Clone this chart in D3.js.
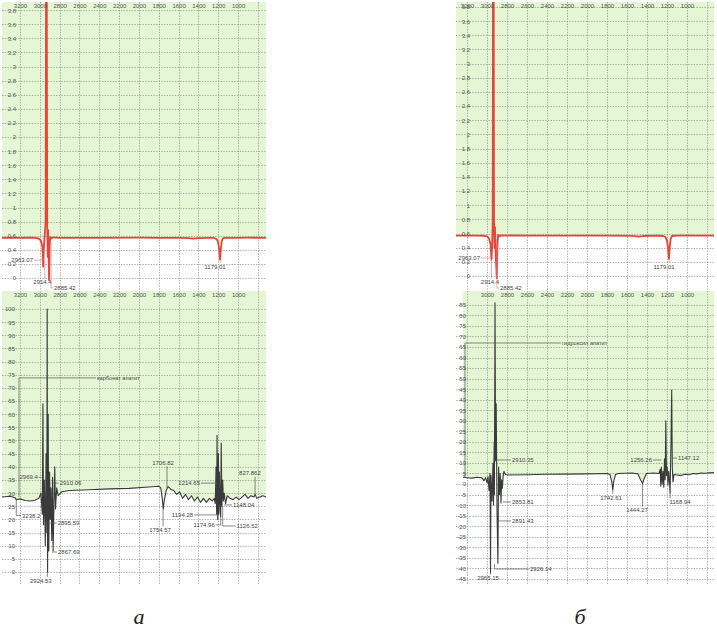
<!DOCTYPE html>
<html>
<head>
<meta charset="utf-8">
<script src="https://cdn.jsdelivr.net/npm/d3@7"></script>
<style>
body { margin: 0; background: #fff; }
</style>
</head>
<body>
<svg id="fig" width="717" height="635"></svg>
<script>

// wavenumber ticks (cm-1)
var wnTicks = [3200, 3000, 2800, 2600, 2400, 2200, 2000, 1800, 1600, 1400, 1200, 1000];
var wnTicksB = [3000, 2800, 2600, 2400, 2200, 2000, 1800, 1600, 1400, 1200, 1000];
var wnGrid = [3200, 3000, 2800, 2600, 2400, 2200, 2000, 1800, 1600, 1400, 1200, 1000, 800];

var topTicks = [0, 0.2, 0.4, 0.6, 0.8, 1, 1.2, 1.4, 1.6, 1.8, 2, 2.2, 2.4, 2.6, 2.8, 3, 3.2, 3.4, 3.6, 3.8];
var botTicksA = [0, 5, 10, 15, 20, 25, 30, 35, 40, 45, 50, 55, 60, 65, 70, 75, 80, 85, 90, 95, 100];
var botTicksB = [-45, -40, -35, -30, -25, -20, -15, -10, -5, 0, 5, 10, 15, 20, 25, 30, 35, 40, 45, 50, 55, 60, 65, 70, 75, 80, 85];

// spectra: [wavenumber, value]
var topSpecA = [[3382,0.57],[3300,0.572],[3200,0.57],[3100,0.571],[3040,0.568],[3010,0.56],[2990,0.53],[2975,0.45],
  [2966,0.16],[2960,0.42],[2950,0.62],[2942,0.8],[2937,4.6],[2931,4.6],[2926,0.75],[2920,0.3],[2916,0.68],[2912,0.35],
  [2907,-0.03],[2902,0.45],[2895,0.58],[2885,0.56],[2870,0.575],[2800,0.57],[2400,0.57],[2000,0.572],[1800,0.57],
  [1600,0.568],[1500,0.565],[1450,0.56],[1400,0.565],[1300,0.57],[1240,0.568],[1215,0.55],[1200,0.5],[1190,0.4],
  [1182,0.26],[1174,0.4],[1165,0.52],[1150,0.565],[1120,0.57],[1000,0.57],[900,0.572],[718,0.57]];

var topSpecB = [[3310,0.57],[3200,0.571],[3100,0.57],[3030,0.568],[3000,0.56],[2980,0.53],[2965,0.45],[2955,0.23],
  [2948,0.45],[2943,0.75],[2940,4.6],[2934,4.6],[2930,0.8],[2925,0.4],[2920,0.69],[2913,0.3],[2902,-0.03],[2895,0.45],
  [2888,0.58],[2875,0.56],[2860,0.572],[2600,0.57],[2200,0.57],[1800,0.57],[1550,0.566],[1480,0.555],[1430,0.565],
  [1300,0.57],[1240,0.565],[1215,0.55],[1200,0.5],[1190,0.4],[1181,0.24],[1173,0.4],[1164,0.52],[1150,0.565],
  [1100,0.57],[900,0.571],[730,0.57]];

var botSpecA = [[3382,28.5],[3300,28.8],[3250,28.2],[3238,27.5],[3200,27.8],[3150,27.2],[3100,27.0],[3050,27.3],
  [3010,28],[2990,30],[2975,22],[2969,64],[2963,18],[2955,35],[2945,10],[2937,45],[2930,15],[2926,100],[2922,0],
  [2916,60],[2910,8],[2902,38],[2895,20],[2888,32],[2880,12],[2872,36],[2866,8],[2858,25],[2850,40],[2842,24],
  [2830,32],[2815,29],[2780,30.5],[2700,31],[2500,31.3],[2300,31.6],[2100,31.8],[1900,32.3],[1800,32.6],[1780,32],
  [1765,28],[1755,24],[1745,27],[1725,31],[1706,32.5],[1680,31.5],[1650,31],[1620,29.5],[1590,30.5],[1560,28],
  [1530,29.5],[1500,27.5],[1470,29],[1440,27],[1410,28.5],[1380,26.5],[1350,28],[1320,26.5],[1290,28],[1260,27],
  [1240,28],[1230,26],[1222,40],[1216,22],[1212,52],[1205,20],[1198,45],[1194,22],[1188,38],[1180,24],[1175,21],
  [1170,49],[1163,25],[1155,35],[1148,27],[1140,30],[1126,26],[1110,29],[1080,28],[1050,27.5],[1020,28.5],
  [990,27.5],[960,28.5],[930,29.5],[900,28],[870,29],[840,28.5],[828,29.5],[810,28],[780,28.5],[750,29],[718,28.5]];

var botSpecB = [[3240,3.2],[3200,3.0],[3150,2.8],[3100,3.2],[3050,2.9],[3030,1.5],[3015,3.0],[3000,0.5],[2990,3.5],
  [2980,-3],[2970,5],[2965,-42],[2960,4],[2950,-8],[2940,10],[2935,-10],[2928,20],[2926,-5],[2920,86],[2914,11],
  [2908,38],[2900,-12],[2891,-37.6],[2884,8],[2876,-5],[2868,5],[2860,-9],[2853,2],[2846,-2],[2838,4],[2830,6],
  [2815,4.5],[2790,4.3],[2600,4.4],[2400,4.6],[2200,4.7],[2000,4.8],[1800,5],[1770,4.5],[1752,1],[1742,-2.8],
  [1732,1.5],[1715,4.5],[1690,5],[1550,5.2],[1490,4.8],[1465,2],[1444,0.2],[1430,2.5],[1405,5],[1330,5.2],
  [1280,5],[1268,7],[1262,-1],[1256,8],[1248,0],[1240,6],[1232,-1.5],[1225,12],[1218,2],[1212,30],[1205,4],
  [1198,8],[1190,-0.5],[1183,6],[1176,2],[1169,-4.4],[1160,20],[1153,44.6],[1147,8],[1140,1],[1130,4.5],
  [1100,4.3],[1060,4.0],[1020,4.6],[980,4.4],[940,5.0],[900,4.8],[860,5.2],[820,5.1],[780,5.3],[730,5.4]];

// peak notes: [text, wn, value, label wn, label value, anchor]
var notesTopA = [["2963.07",2958,0.255,3069,0.255,"end"],["2914.4",2950,0.25,2973,-0.06,"middle"],
  ["2885.42",2887,0.5,2857,-0.14,"start"],["1179.01",1180,0.26,1232,0.16,"middle"]];
var notesTopB = [["2963.07",2965,0.254,3070,0.254,"end"],["2914.4",2955,0.23,2970,-0.085,"middle"],
  ["2885.42",2900,0.45,2870,-0.17,"start"],["1179.01",1180,0.24,1230,0.13,"middle"]];
var notesBotA = [["карбонат апатит",3210,28.5,2423,73.8,"start"],["2969.4",2985,36,3020,36,"end"],
  ["3238.2",3238,28,3180,21.5,"start"],["2910.06",2880,33.8,2800,33.8,"start"],["2895.59",2897,18.6,2820,18.6,"start"],
  ["2867.69",2877,7.6,2817,7.6,"start"],["2924.53",2924,0,2990,-3.2,"middle"],["1706.82",1717,32,1757,41.5,"middle"],
  ["1754.57",1757,24,1787,16,"middle"],["1214.65",1212,33.8,1384,33.8,"end"],["1194.28",1194,21.7,1454,21.7,"end"],
  ["1174.96",1175,21,1235,17.9,"end"],["1148.04",1140,25.5,1050,25.5,"start"],["1126.52",1155,25,1015,17.5,"start"],
  ["827.862",828,29.5,880,37.6,"middle"]];
var notesBotB = [["гидроксил апатит",3220,3,2250,66.9,"start"],["2910.35",2920,11.4,2750,11.4,"start"],
  ["2853.81",2840,-8.5,2750,-8.5,"start"],["2891.43",2890,-17.5,2750,-17.5,"start"],["2926.14",2926,-38,2570,-40.3,"start"],
  ["2965.15",2965,-42,2990,-44.6,"middle"],["1742.61",1742,-2.8,1760,-6.4,"middle"],["1444.27",1444,0.2,1500,-12.3,"middle"],
  ["1256.26",1256,11.4,1350,11.4,"end"],["1147.12",1147,12.3,1090,12.3,"start"],["1168.94",1169,-4.4,1070,-8.5,"middle"]];

var sans = '"Liberation Sans", Arial, sans-serif';
var svg = d3.select('#fig');

var panels = [
  { spec: topSpecA, notes: notesTopA, xd: [3382, 718], xr: [2, 266], yd: [-0.17, 3.915], yr: [290, 2],
    yt: topTicks, xt: wnTicks, ylx: 16, color: '#e5463c', width: 1.8, lead: '#e8837b' },
  { spec: topSpecB, notes: notesTopB, xd: [3310, 730], xr: [456, 714], yd: [-0.198, 3.87], yr: [290, 2],
    yt: topTicks, xt: wnTicks, ylx: 470, color: '#e5463c', width: 1.8, lead: '#e8837b' },
  { spec: botSpecA, notes: notesBotA, xd: [3382, 718], xr: [2, 266], yd: [-4.94, 106.84], yr: [585, 291],
    yt: botTicksA, xt: wnTicks, ylx: 15, color: '#3a3a3a', width: 1.1, lead: '#555' },
  { spec: botSpecB, notes: notesBotB, xd: [3310, 730], xr: [456, 714], yd: [-47.9, 91.56], yr: [585, 291],
    yt: botTicksB, xt: wnTicksB, ylx: 466, color: '#3a3a3a', width: 1.1, lead: '#555' }
];

panels.forEach(function(p, i) {

  var x = d3.scaleLinear().domain(p.xd).range(p.xr);
  var y = d3.scaleLinear().domain(p.yd).range(p.yr);
  var top = p.yr[1], bottom = p.yr[0];

  svg.append('clipPath').attr('id', 'clip' + i)
    .append('rect')
    .attr('x', p.xr[0]).attr('y', top)
    .attr('width', p.xr[1] - p.xr[0]).attr('height', bottom - top);

  var g = svg.append('g');
  var plot = g.append('g').attr('clip-path', 'url(#clip' + i + ')');

  // green fill above the curve
  plot.append('path')
    .datum(p.spec)
    .attr('fill', '#e4f6d4')
    .attr('d', d3.area().x(d => x(d[0])).y0(top).y1(d => y(d[1])));

  // grid
  plot.selectAll('.hg').data(p.yt).enter().append('line')
    .attr('x1', p.xr[0]).attr('x2', p.xr[1])
    .attr('y1', d => Math.round(y(d)) + 0.5).attr('y2', d => Math.round(y(d)) + 0.5)
    .attr('stroke', '#8e988c').attr('stroke-width', 0.7).attr('stroke-dasharray', '1.5,1.2');

  plot.selectAll('.vg').data(wnGrid).enter().append('line')
    .attr('y1', top).attr('y2', bottom)
    .attr('x1', d => Math.round(x(d)) + 0.5).attr('x2', d => Math.round(x(d)) + 0.5)
    .attr('stroke', '#8e988c').attr('stroke-width', 0.7).attr('stroke-dasharray', '1.5,1.2');

  // curve
  plot.append('path')
    .datum(p.spec)
    .attr('fill', 'none')
    .attr('stroke', p.color)
    .attr('stroke-width', p.width)
    .attr('stroke-linejoin', 'round')
    .attr('d', d3.line().x(d => x(d[0])).y(d => y(d[1])));

  // axes (labels only)
  var ya = g.append('g')
    .attr('transform', `translate(${p.ylx} 0)`)
    .call(d3.axisLeft(y).tickValues(p.yt).tickSize(0).tickPadding(0)
      .tickFormat(d => String(+d.toFixed(1))));
  var xa = g.append('g')
    .attr('transform', `translate(0 ${top + 2})`)
    .call(d3.axisBottom(x).tickValues(p.xt).tickSize(0).tickPadding(0)
      .tickFormat(d3.format('d')));

  [ya, xa].forEach(function(a) {
    a.attr('font-family', null).attr('font-size', null);
    a.select('.domain').remove();
    a.selectAll('text').attr('font-size', 6).attr('fill', '#555').attr('font-family', sans);
  });

  // peak notes
  var notes = g.append('g');
  p.notes.forEach(function(n) {
    var px = x(n[1]), py = y(n[2]), lx = x(n[3]), ly = y(n[4]);
    var d;
    if (n[5] === 'middle') {
      d = `M${px},${py}V${ly + (n[4] < n[2] ? -3.5 : 3.5)}`;
    } else {
      d = `M${px},${py}V${ly}H${lx + (n[5] === 'start' ? -1 : 1)}`;
    }
    notes.append('path').attr('d', d)
      .attr('fill', 'none').attr('stroke', p.lead).attr('stroke-width', 0.7);
    notes.append('text')
      .attr('x', lx).attr('y', ly).attr('dy', '0.35em')
      .attr('text-anchor', n[5])
      .attr('font-family', sans)
      .attr('font-size', n[0].length > 9 ? 5.6 : 6)
      .attr('fill', '#444')
      .text(n[0]);
  });
});

// captions
svg.selectAll('.cap').data([['а', 139], ['б', 580]]).enter().append('text')
  .attr('x', d => d[1]).attr('y', 624)
  .attr('text-anchor', 'middle')
  .attr('font-family', '"Liberation Serif", "Times New Roman", serif')
  .attr('font-style', 'italic')
  .attr('font-size', 22)
  .attr('fill', '#222')
  .text(d => d[0]);

</script>
</body>
</html>
